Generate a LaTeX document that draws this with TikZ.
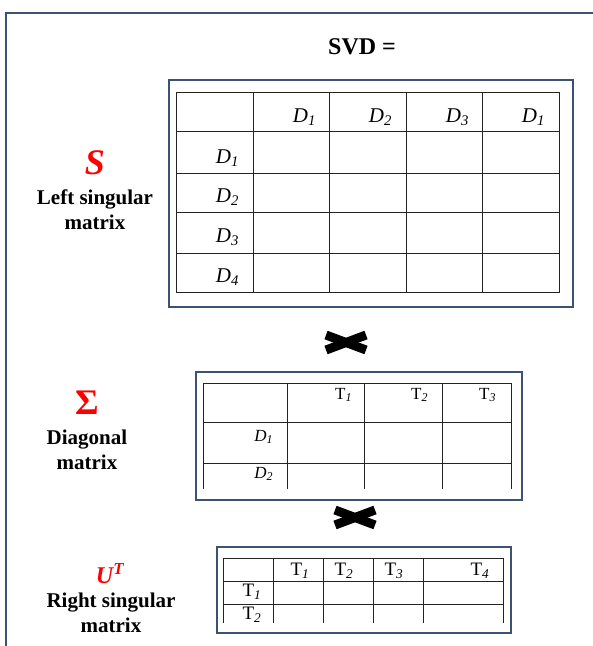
\documentclass[tikz,border=0pt]{standalone}
\usepackage{fontspec}
\setmainfont{Liberation Serif}
\usetikzlibrary{positioning}

\definecolor{frameblue}{RGB}{59,82,115}
\definecolor{gridgray}{RGB}{35,35,35}

\begin{document}
\begin{tikzpicture}[
  x=1pt, y=-1pt,
  every node/.style={inner sep=0pt, outer sep=0pt},
  frame/.style = {draw=frameblue, line width=2.4pt},
  grid/.style = {draw=gridgray, line width=1pt, line cap=rect},
  cross/.style = {line width=9pt, black},
  title/.style = {font=\bfseries\fontsize{24}{26}\selectfont},
  caption/.style = {font=\bfseries\fontsize{21}{25}\selectfont, align=center},
  symb/.style = {text=red, font=\bfseries\fontsize{36}{38}\selectfont},
  big/.style = {font=\fontsize{21}{23}\selectfont, anchor=east},
  mid/.style = {font=\fontsize{17}{19}\selectfont, anchor=east},
  small/.style = {font=\fontsize{19}{21}\selectfont}
  ]
  \useasboundingbox (0,0) rectangle (593,646);

	% outer frame
	\draw[frameblue, line width=2pt] (6,646) -- (6,13) -- (594,13);

	\node[title] (svd) at (362,47) {SVD =};

	% left singular matrix
	\draw[frame] (169,80) rectangle (573,307);
	\foreach \x in {176,253,329,406,482,559}
	  \draw[grid] (\x,92) -- (\x,292);
	\foreach \y in {92,131,173,212,253,292}
	  \draw[grid] (176,\y) -- (559,\y);
	\node[big] (s-c1) at (316,117) {\itshape D\textsubscript{1}};
	\node[big] (s-c2) at (392,117) {\itshape D\textsubscript{2}};
	\node[big] (s-c3) at (469,117) {\itshape D\textsubscript{3}};
	\node[big] (s-c4) at (545,117) {\itshape D\textsubscript{1}};
	\node[big] (s-r1) at (239,158) {\itshape D\textsubscript{1}};
	\node[big] (s-r2) at (239,197) {\itshape D\textsubscript{2}};
	\node[big] (s-r3) at (239,237) {\itshape D\textsubscript{3}};
	\node[big] (s-r4) at (239,277) {\itshape D\textsubscript{4}};

	\node[symb] (S) at (95,163) {\itshape S};
	\node[caption] (Scap) at (95,210) {Left singular\\matrix};

	\draw[cross] (326,335) -- (366,350);
	\draw[cross] (326,350) -- (366,335);

	% diagonal matrix
	\draw[frame] (196,372) rectangle (522,500);
	\foreach \x in {203,287,364,442,511}
	  \draw[grid] (\x,383) -- (\x,488);
	\foreach \y in {383,422,463}
	  \draw[grid] (203,\y) -- (511,\y);
	\node[mid] (g-c1) at (352,395) {T\textsubscript{\itshape 1}};
	\node[mid] (g-c2) at (428,395) {T\textsubscript{\itshape 2}};
	\node[mid] (g-c3) at (496,395) {T\textsubscript{\itshape 3}};
	\node[mid] (g-r1) at (273,437) {\itshape D\textsubscript{1}};
	\node[mid] (g-r2) at (273,474) {\itshape D\textsubscript{2}};

	\node[symb] (Sigma) at (87,403) {Σ};
	\node[caption] (Sigmacap) at (87,450) {Diagonal\\matrix};

	\draw[cross] (335,510) -- (375,525);
	\draw[cross] (335,525) -- (375,510);

	% right singular matrix
	\draw[frame] (217,547) rectangle (511,633);
	\foreach \x in {223,273,323,373,423,503}
	  \draw[grid] (\x,558) -- (\x,622);
	\foreach \y in {558,581,604}
	  \draw[grid] (223,\y) -- (503,\y);
	\node[small] (u-c1) at (300,571) {T\textsubscript{\itshape 1}};
	\node[small] (u-c2) at (344,571) {T\textsubscript{\itshape 2}};
	\node[small] (u-c3) at (394,571) {T\textsubscript{\itshape 3}};
	\node[small] (u-c4) at (480,571) {T\textsubscript{\itshape 4}};
	\node[small] (u-r1) at (252,592) {T\textsubscript{\itshape 1}};
	\node[small] (u-r2) at (252,615) {T\textsubscript{\itshape 2}};

	\node[text=red, font=\bfseries\itshape\fontsize{24}{26}\selectfont] (U) at (110,574) {U\textsuperscript{T}};
	\node[caption] (Ucap) at (111,613) {Right singular\\matrix};

\end{tikzpicture}
\end{document}
